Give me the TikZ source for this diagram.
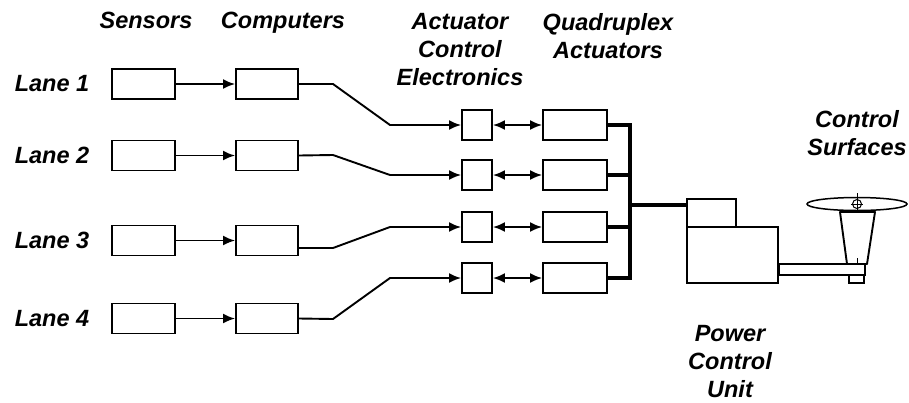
\documentclass[tikz,border=0pt]{standalone}
\usepackage{fontspec}
\setmainfont{Liberation Sans}
\usetikzlibrary{arrows.meta}
\begin{document}
\begin{tikzpicture}[x=1pt,y=-1pt,
  lbl/.style={font=\fontsize{23.5}{28}\selectfont\bfseries\itshape, align=center, inner sep=0pt},
  blk/.style={draw, line width=1.9pt, inner sep=0pt},
  sbox/.style={blk, minimum width=63pt, minimum height=30pt},
  ace/.style={blk, minimum width=30pt, minimum height=30pt},
  act/.style={blk, minimum width=64pt, minimum height=30pt},
  wire/.style={line width=1.9pt},
  tip/.tip={Latex[length=12pt,width=10pt]},
  fwd/.style={wire, -tip},
  both/.style={wire, tip-tip},
  bus/.style={line width=3.6pt}
]
\useasboundingbox[fill=white] (0,0) rectangle (909,402);

% column headings
\node[lbl, anchor=base] (hs) at (146,28) {Sensors};
\node[lbl, anchor=base] (hc) at (283,28) {Computers};
\node[lbl] (he) at (460,50) {Actuator\\Control\\Electronics};
\node[lbl] (hq) at (608,36.5) {Quadruplex\\Actuators};
\node[lbl] (hcs) at (857,133) {Control\\Surfaces};
\node[lbl] (hp) at (730,362) {Power\\Control\\Unit};

% lanes: sensors and computers
\foreach \i/\y in {1/84,2/155.5,3/240.5,4/318.5}{
  \node[lbl] (l\i) at (52,\y) {Lane \i};
  \node[sbox] (s\i) at (143.5,\y) {};
  \node[sbox, minimum width=62pt] (c\i) at (267,\y) {};
  \draw[fwd] (s\i) -- (c\i);
}

% actuator control electronics and quadruplex actuators
\foreach \i/\y in {1/125,2/175,3/227,4/278}{
  \node[ace] (e\i) at (477,\y) {};
  \node[act] (q\i) at (575,\y) {};
  \draw[both] (e\i) -- (q\i);
}

% computer to electronics wiring
\coordinate (k1a) at (333,84);  \coordinate (k1b) at (390,125);
\coordinate (k2a) at (333,155); \coordinate (k2b) at (390,175);
\coordinate (k3a) at (333,248); \coordinate (k3b) at (390,227);
\coordinate (k4a) at (333,319); \coordinate (k4b) at (390,278);
\draw[fwd] (c1.east) -- (k1a) -- (k1b) -- (e1.west);
\draw[fwd] (c2.east) -- (k2a) -- (k2b) -- (e2.west);
\draw[fwd] (c3.east |- k3a) -- (k3a) -- (k3b) -- (e3.west);
\draw[fwd] (c4.east) -- (k4a) -- (k4b) -- (e4.west);

% power control unit
\node[blk, minimum width=49pt, minimum height=28pt] (pt) at (711.5,213) {};
\node[blk, minimum width=91pt, minimum height=56pt] (pb) at (732.5,255) {};

% actuator bus
\coordinate (bt) at (630,125);
\coordinate (bb) at (630,278);
\coordinate (bm) at (630,205);
\foreach \i in {1,...,4}{ \draw[bus] (q\i.east) -- (q\i.east -| bt); }
\draw[bus, line cap=rect] (bt) -- (bb);
\draw[bus] (bm) -- (bm -| pt.west);

% control surface linkage
\draw[blk] (pb.east |- 0,264) rectangle (865,275);
\draw[blk] (849,275) rectangle (864,283);
\draw[blk, line join=round] (840,212) -- (875,212) -- (867,264) -- (847,264) -- cycle;
\draw[line width=0.6pt] (857,258) -- (857,263);
\draw[blk, line width=1.5pt] (857,204) ellipse [x radius=50, y radius=6.5];
\draw[line width=1pt] (857,204) circle [radius=4.5];
\draw[line width=0.8pt] (857,193) -- (857,212) (851,204) -- (863,204);
\end{tikzpicture}
\end{document}
